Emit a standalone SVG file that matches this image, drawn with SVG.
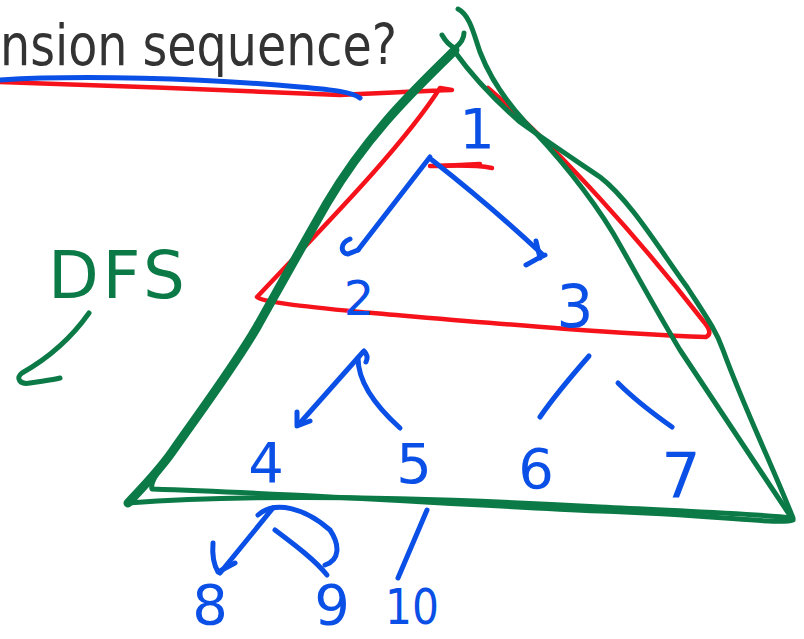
<svg xmlns="http://www.w3.org/2000/svg" width="804" height="639" viewBox="0 0 804 639">
<style>
.b{fill:none;stroke:#0a4fe6;stroke-width:5;stroke-linecap:round;stroke-linejoin:round}
.r{fill:none;stroke:#f5121a;stroke-width:4.5;stroke-linecap:round;stroke-linejoin:round}
.g{fill:none;stroke:#0b7a47;stroke-width:5;stroke-linecap:round;stroke-linejoin:round}
.gt{fill:none;stroke:#0b7a47;stroke-width:9;stroke-linecap:round;stroke-linejoin:round}
.d{font-family:"DejaVu Sans",sans-serif;fill:#0a4fe6;text-anchor:middle}
</style>
<rect width="804" height="639" fill="#ffffff"/>
<text x="0" y="65" font-family="DejaVu Sans Condensed, DejaVu Sans, sans-serif" font-stretch="condensed" font-size="57" fill="#333333" textLength="397" lengthAdjust="spacingAndGlyphs">nsion sequence?</text>
<g id="annotations">
<path class="r" d="M0,82 C100,85 250,91 340,95 C380,93 420,91 452,90 L440,88 C400,150 320,230 257,297 C262,302 300,306 360,312 C480,322 600,333 706,337 C712,334 709,328 704,322 C640,240 560,150 488,88"/>
<path class="r" d="M430,166 C450,166 470,164 492,168" stroke-width="5"/>
<path class="r" d="M440,166 L480,164" stroke-width="8"/>
<path class="b" d="M0,80 C80,75 200,78 300,87 C335,90 352,92 360,98"/>
<path class="gt" d="M455,50 C420,85 370,130 327,203 C300,250 275,295 257,327 C235,365 205,405 172,452 C158,472 140,490 128,503"/>
<path class="g" d="M128,503 C250,494 420,497 600,507 C700,512 760,514 792,518"/>
<path class="g" d="M458,9 C470,15 474,35 480,52 C490,78 505,100 525,122 C555,152 590,195 613,233 C630,262 650,300 680,350 C720,410 760,470 793,520 C780,525 720,515 600,511 C450,504 300,494 152,489 C150,482 158,472 172,452"/>
<path class="g" d="M455,52 C475,80 495,100 520,122 C545,140 575,160 600,177 C630,200 660,250 687,287 C705,315 716,330 723,350 C745,410 770,460 793,518"/>
<path class="g" d="M442,35 C446,42 450,46 455,48 C460,44 464,40 464,33"/>
</g>
<g id="connectors">
<path class="b" d="M430,157 L358,250" stroke-width="6"/>
<path class="b" d="M350,239 C340,243 340,253 348,254 L358,250"/>
<path class="b" d="M432,160 C455,178 495,210 542,254"/>
<path class="b" d="M536,241 L540,258 M545,255 C538,258 532,262 526,265"/>
<path class="b" d="M363,352 L300,423"/>
<path class="b" d="M297,412 L297,426 L310,421"/>
<path class="b" d="M364,351 C367,354 368,358 366,362"/>
<path class="b" d="M358,358 C358,385 380,410 400,428"/>
<path class="b" d="M589,356 C575,372 555,395 540,417"/>
<path class="b" d="M618,383 C635,400 655,415 672,427"/>
<path class="b" d="M273,508 L220,573"/>
<path class="b" d="M213,543 C212,555 214,565 218,572 L235,563"/>
<path class="b" d="M258,515 C275,500 305,508 330,530 C340,545 340,560 325,565"/>
<path class="b" d="M275,530 C295,545 315,560 327,575"/>
<path class="b" d="M427,510 L398,578"/>
<path class="g" d="M89,313 C70,340 45,360 22,373 C15,378 20,385 30,383 C42,381 52,380 60,378"/>
</g>
<g id="label-dfs"><text x="48" y="298" font-family="DejaVu Sans, sans-serif" font-size="66" fill="#0b7a47" textLength="137" lengthAdjust="spacing">DFS</text></g>
<g id="n1"><text class="d" x="477" y="148" font-size="56">1</text></g>
<g id="n2"><text class="d" x="359" y="315" font-size="48">2</text></g>
<g id="n3"><text class="d" x="575" y="327" font-size="58">3</text></g>
<g id="n4"><text class="d" x="266" y="482" font-size="56">4</text></g>
<g id="n5"><text class="d" x="414" y="483" font-size="56">5</text></g>
<g id="n6"><text class="d" x="536" y="488" font-size="56">6</text></g>
<g id="n7"><text class="d" x="681" y="497" font-size="62">7</text></g>
<g id="n8"><text class="d" x="210" y="624" font-size="56">8</text></g>
<g id="n9"><text class="d" x="332" y="624" font-size="56">9</text></g>
<g id="n10"><text class="d" x="412" y="624" font-size="50" textLength="54" lengthAdjust="spacingAndGlyphs">10</text></g>
</svg>
